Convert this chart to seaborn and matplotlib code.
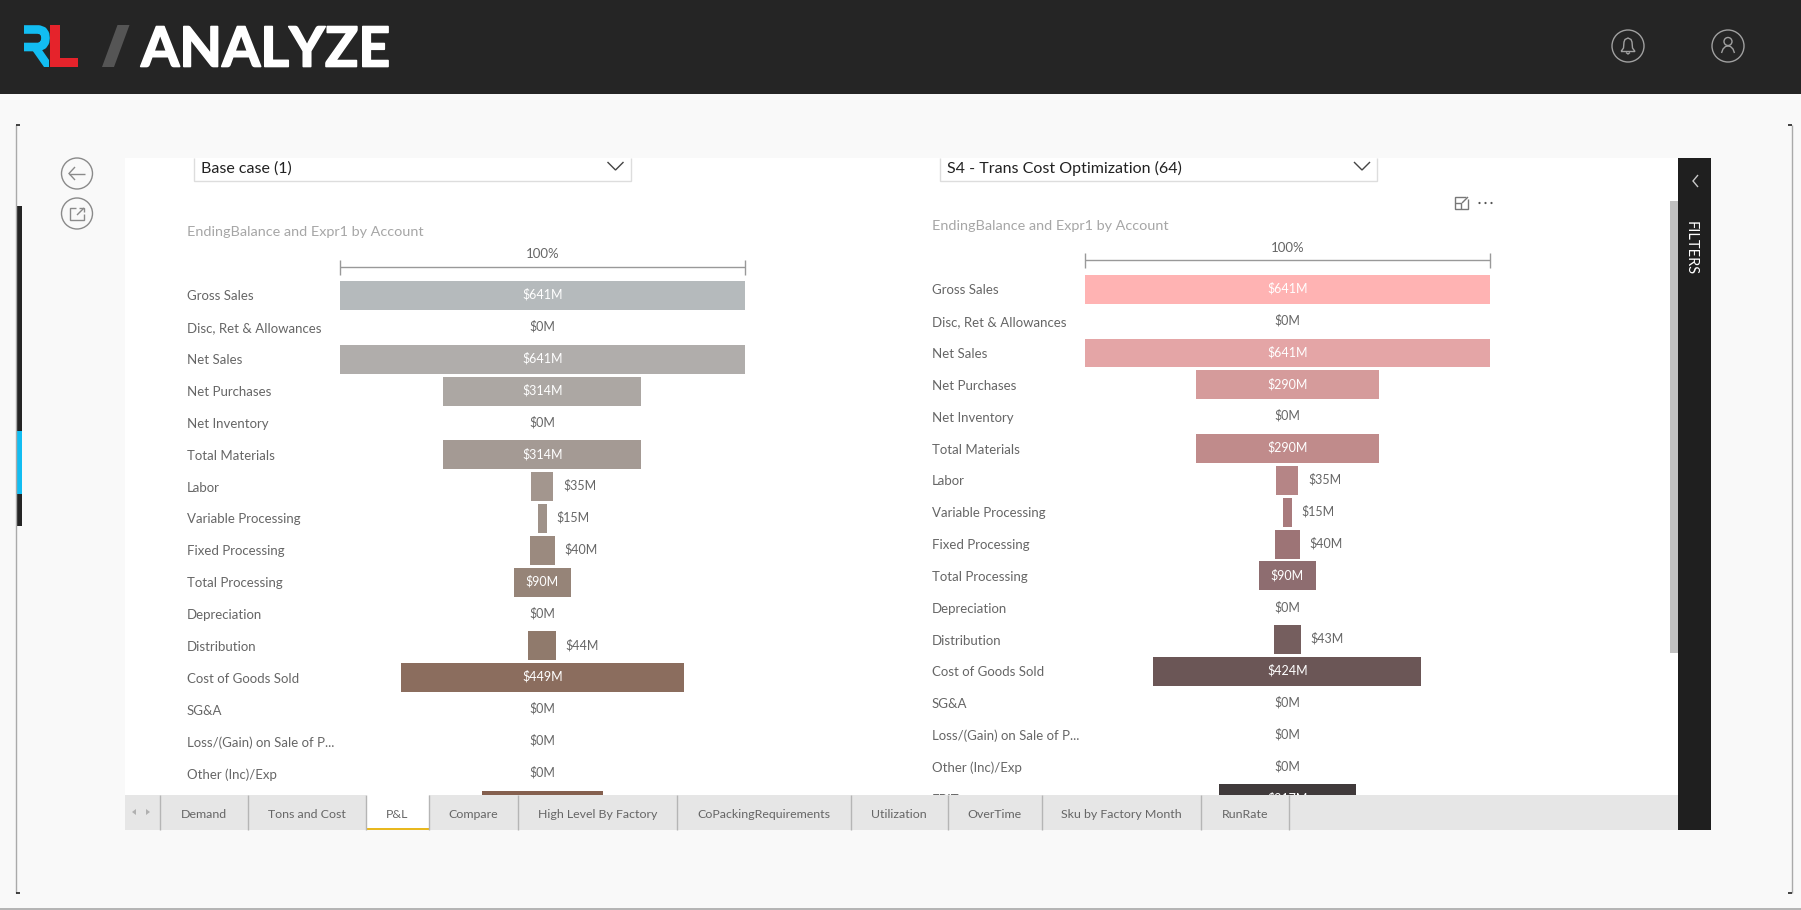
"""Power BI style P&L page: two funnel charts inside the app chrome."""
import matplotlib
matplotlib.use('Agg')
import matplotlib.pyplot as plt
import matplotlib.patheffects as pe
from matplotlib.patches import Circle, Polygon, Rectangle
import pandas as pd
import seaborn as sns

W, H = 1801, 910

accounts = ['Gross Sales', 'Disc, Ret & Allowances', 'Net Sales', 'Net Purchases', 'Net Inventory',
            'Total Materials', 'Labor', 'Variable Processing', 'Fixed Processing', 'Total Processing',
            'Depreciation', 'Distribution', 'Cost of Goods Sold', 'SG&A', 'Loss/(Gain) on Sale of P...',
            'Other (Inc)/Exp', 'EBIT']
base_values = [641, 0, 641, 314, 0, 314, 35, 15, 40, 90, 0, 44, 449, 0, 0, 0, 192]
s4_values = [641, 0, 641, 290, 0, 290, 35, 15, 40, 90, 0, 43, 424, 0, 0, 0, 217]
base_colors = ['#b5babc', '#b3b4b4', '#b0adab', '#aca7a3', '#a9a19c', '#a49a94', '#a3968e', '#9f9289',
               '#9b8a7f', '#968478', '#937f72', '#907a6c', '#8b6d5e', '#896a5a', '#886655', '#866352', '#85604f']
s4_colors = ['#ffb3b3', '#f2acac', '#e4a5a6', '#d59b9b', '#cb9393', '#c08b8b', '#b58586', '#a97b7d',
             '#9d7476', '#8e6d70', '#806266', '#755e5e', '#6b5656', '#625050', '#564848', '#4b4141', '#403a3b']
tab_names = ['Demand', 'Tons and Cost', 'P&L', 'Compare', 'High Level By Factory', 'CoPackingRequirements',
             'Utilization', 'OverTime', 'Sku by Factory Month', 'RunRate']
tab_edges = [159.5, 248, 365.5, 428.5, 518, 677, 851, 947.6, 1041.5, 1201.4, 1288.5]

ROW_PX = 31.85
GREY = '#666666'

sns.set_theme(style='white')
plt.rcParams['font.family'] = ['Lato', 'DejaVu Sans']

fig = plt.figure(figsize=(W / 100, H / 100), dpi=100, facecolor='#f9f9f9')


def px_axes(x0, y0, x1, y1, zorder):
    return fig.add_axes([x0 / W, 1 - y1 / H, (x1 - x0) / W, (y1 - y0) / H], zorder=zorder)


def line(ax, xs, ys, color='#888888', lw=1.0):
    ax.plot(xs, ys, color=color, lw=lw, solid_capstyle='butt', solid_joinstyle='miter')


def rect(ax, x0, y0, x1, y1, color):
    ax.add_patch(Rectangle((x0, y0), x1 - x0, y1 - y0, facecolor=color, edgecolor='none'))


def poly(ax, pts, color):
    ax.add_patch(Polygon(pts, facecolor=color, edgecolor='none'))


# ── background layer ──
bg = px_axes(0, 0, W, H, 0)
bg.set_xlim(0, W)
bg.set_ylim(H, 0)
bg.axis('off')

rect(bg, 0, 0, W, 94, '#252525')
rect(bg, 125, 158, 1678, 830, 'white')
rect(bg, 0, 908, W, 910, '#b5b5b5')

# logo and page name
bg.plot([24, 39, 43, 45, 45.5, 45, 43, 39, 24], [29.5, 29.5, 31, 34, 38, 42, 45, 47, 47],
        color='#12bdf2', lw=6.2, solid_joinstyle='round', solid_capstyle='butt')
poly(bg, [(30, 47), (40, 47), (49, 60), (49, 67), (44, 67)], '#12bdf2')
poly(bg, [(50, 25), (59.5, 25), (59.5, 57.5), (78, 57.5), (78, 67), (50, 67)], '#e5232b')
poly(bg, [(117.5, 25), (129.5, 25), (114, 67), (102, 67)], '#555555')
bg.text(141, 66.5, 'ANALYZE', color='white', fontsize=39.8, fontweight='bold', va='baseline', ha='left',
        path_effects=[pe.withStroke(linewidth=1.2, foreground='white')])

# header icons
for cx in (1628, 1728):
    bg.add_patch(Circle((cx, 46), 16, fill=False, edgecolor='#a0a0a0', lw=1.0))
line(bg, [1621, 1623.5, 1624, 1625, 1628, 1631, 1632, 1632.5, 1635, 1621],
     [51.5, 48, 42, 39.5, 38, 39.5, 42, 48, 51.5, 51.5], '#a0a0a0')
line(bg, [1626, 1628, 1630], [52.5, 54, 52.5], '#a0a0a0')
bg.add_patch(Circle((1728, 41.5), 4, fill=False, edgecolor='#a0a0a0', lw=1.0))
line(bg, [1721.5, 1723, 1725.5, 1728, 1730.5, 1733, 1734.5], [53, 49, 46.5, 46, 46.5, 49, 53], '#a0a0a0')

# report frame and side strip
line(bg, [16, 16], [125, 893], '#aaaaaa')
line(bg, [1792, 1792], [125, 893], '#aaaaaa')
for x0, x1 in ((16, 20), (1788, 1792)):
    line(bg, [x0, x1], [125, 125], '#222222', 1.2)
    line(bg, [x0, x1], [893, 893], '#222222', 1.2)
rect(bg, 16, 206, 22, 526, '#252525')
rect(bg, 16, 431, 22, 494, '#12bdf2')

# back / open buttons
for cy in (173.5, 213.5):
    bg.add_patch(Circle((77, cy), 15.5, fill=False, edgecolor='#8a8a8a', lw=1.0))
line(bg, [85, 69], [173.5, 173.5], '#8a8a8a')
line(bg, [75, 69, 75], [167, 173.5, 180], '#8a8a8a')
line(bg, [76, 70, 70, 84, 84], [208, 208, 220, 220, 214], '#8a8a8a')
line(bg, [77, 84], [215, 208], '#8a8a8a')
line(bg, [79, 84, 84], [208, 208, 212], '#8a8a8a')

# slicers
slicers = [(194, 630.5, 'Base case (1)', 169, 615.5), (940, 1377, 'S4 - Trans Cost Optimization (64)', 168, 1362)]
for x0, x1, label, label_y, chev in slicers:
    line(bg, [x0, x0, x1, x1], [158, 180.5, 180.5, 158], '#dddddd')
    bg.text(x0 + 7, label_y, label, color='#222222', fontsize=11.5, va='center', ha='left')
    line(bg, [chev - 8, chev, chev + 8], [162, 170, 162], '#444444')

# focus and more icons
line(bg, [1466, 1455, 1455, 1468, 1468], [197, 197, 209, 209, 199], '#777777')
line(bg, [1455, 1461, 1461], [203, 203, 209], '#777777')
line(bg, [1462, 1468], [203, 197], '#777777')
for dx in (1479.5, 1485.5, 1491.5):
    bg.add_patch(Circle((dx, 203), 1.1, facecolor='#555555', edgecolor='none'))

# ── funnels ──
panels = [
    dict(x0=340, x1=744.5, row0=295.5, label_x=187, values=base_values, colors=base_colors, last_text=False),
    dict(x0=1085, x1=1489.5, row0=289.3, label_x=932, values=s4_values, colors=s4_colors, last_text=True),
]
for p in panels:
    top, bottom = p['row0'] - 15.9, 826
    ax = px_axes(p['x0'], top, p['x1'], bottom, 1)
    df = pd.DataFrame({'account': accounts, 'value': p['values']})
    sns.barplot(data=df, x='value', y='account', hue='account', order=accounts, hue_order=accounts,
                palette=p['colors'], saturation=1, width=0.91, linewidth=0, legend=False, ax=ax)
    # barplot starts at zero, a funnel is centred
    for bar in ax.patches:
        bar.set_x(-bar.get_width() / 2)
    ax.set_xlim(-320.5, 320.5)
    ax.set_ylim((bottom - p['row0']) / ROW_PX, (top - p['row0']) / ROW_PX)
    ax.patch.set_alpha(0)
    sns.despine(ax=ax, left=True, bottom=True)
    ax.set_xticks([])
    ax.set_xlabel('')
    ax.set_ylabel('')
    # the EBIT row sits behind the tab bar, on the left page not even its text shows
    ax.set_yticks(range(len(accounts)),
                  [a if (i < 16 or p['last_text']) else '' for i, a in enumerate(accounts)])
    ax.tick_params(axis='y', length=0, pad=(p['x0'] - p['label_x']) * 0.72)
    for t in ax.get_yticklabels():
        t.set_ha('left')
        t.set_color(GREY)
        t.set_fontsize(9.5)

    for i, v in enumerate(p['values']):
        if i == 16 and not p['last_text']:
            continue
        text = f'${v}M'
        if v >= 90:
            ax.text(0, i - 0.03, text, color='white', fontsize=9, ha='center', va='center')
        elif v == 0:
            ax.text(0, i - 0.03, text, color=GREY, fontsize=9, ha='center', va='center')
        else:
            ax.annotate(text, (v / 2, i - 0.03), xytext=(7, 0), textcoords='offset points',
                        color=GREY, fontsize=9, ha='left', va='center')

    # title and the 100% scale above the funnel
    ty = p['row0']
    cx = (p['x0'] + p['x1']) / 2
    bg.text(p['label_x'], ty - 63.5, 'EndingBalance and Expr1 by Account', color='#a6a6a6', fontsize=10.4,
            ha='left', va='center')
    bg.text(cx, ty - 41, '100%', color=GREY, fontsize=9.5, ha='center', va='center')
    line(bg, [p['x0'], p['x1']], [ty - 29, ty - 29], '#999999')
    line(bg, [p['x0'], p['x0']], [ty - 36, ty - 21], '#999999')
    line(bg, [p['x1'], p['x1']], [ty - 36, ty - 21], '#999999')

# ── overlay: tabs, scrollbar and filter pane cover the clipped rows ──
top_layer = px_axes(0, 0, W, H, 2)
top_layer.set_xlim(0, W)
top_layer.set_ylim(H, 0)
top_layer.axis('off')
top_layer.patch.set_alpha(0)

rect(top_layer, 125, 795, 1678, 830, '#e6e6e6')
rect(top_layer, 365.5, 795, 428.5, 830, 'white')
rect(top_layer, 365.5, 827.5, 428.5, 830, '#e8b81f')
for x in tab_edges:
    line(top_layer, [x, x], [795, 830], '#b5b5b5')
for name, a, b in zip(tab_names, tab_edges[:-1], tab_edges[1:]):
    top_layer.text((a + b) / 2, 814, name, color=GREY, fontsize=8.9, ha='center', va='center')
poly(top_layer, [(136, 809), (136, 815), (132, 812)], '#b0b0b0')
poly(top_layer, [(146, 809), (146, 815), (150, 812)], '#b0b0b0')

rect(top_layer, 1670, 201, 1678, 653, '#c0c0c0')
rect(top_layer, 1678, 158, 1711, 830, '#1f1f1f')
line(top_layer, [1698, 1693, 1698], [175, 181, 187], '#c8c8c8')
top_layer.text(1691, 248, 'FILTERS', color='white', fontsize=10.5, rotation=270, ha='center', va='center')

fig.savefig('out.png', dpi=100, facecolor=fig.get_facecolor())
